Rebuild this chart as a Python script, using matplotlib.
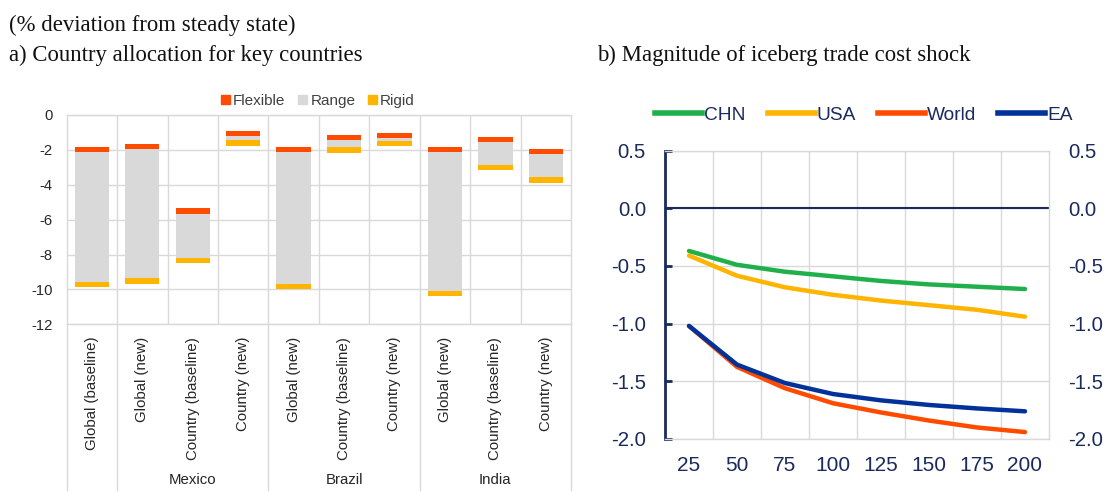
import matplotlib
matplotlib.use("Agg")
import matplotlib.pyplot as plt
import matplotlib.transforms as mtransforms
from matplotlib.patches import Patch
from matplotlib.lines import Line2D
import numpy as np

# ---------------- data ----------------
# Panel a
categories = ["Global (baseline)", "Global (new)", "Country (baseline)", "Country (new)",
              "Global (new)", "Country (baseline)", "Country (new)",
              "Global (new)", "Country (baseline)", "Country (new)"]
groups = ["Mexico", "Brazil", "India"]
group_spans = [(1, 3), (4, 6), (7, 9)]          # category index ranges of each group
flexible = [-1.82, -1.66, -5.35, -0.92, -1.82, -1.15, -1.01, -1.85, -1.24, -1.95]   # top of red band
rigid = [-9.88, -9.67, -8.49, -1.76, -10.0, -2.16, -1.78, -10.4, -3.15, -3.88]      # bottom of yellow band
band = 0.3

# Panel b
shock = [25, 50, 75, 100, 125, 150, 175, 200]
chn = [-0.37, -0.49, -0.55, -0.59, -0.63, -0.66, -0.68, -0.70]
usa = [-0.41, -0.585, -0.685, -0.75, -0.80, -0.84, -0.88, -0.94]
world = [-1.02, -1.375, -1.56, -1.69, -1.77, -1.84, -1.90, -1.94]
ea = [-1.02, -1.355, -1.515, -1.61, -1.665, -1.705, -1.735, -1.76]

# ---------------- style ----------------
C_FLEX = "#FF4B00"
C_RANGE = "#D9D9D9"
C_RIGID = "#FFB400"
C_CHN = "#20B04B"
C_USA = "#FFB400"
C_WORLD = "#FF4B00"
C_EA = "#003299"
NAVY = "#1B2A5C"
GRID = "#D9D9D9"
SANS = ["Liberation Sans", "DejaVu Sans"]
SERIF = ["Liberation Serif", "DejaVu Serif"]

fig = plt.figure(figsize=(11.05, 4.92), dpi=100)
W, H = 1105, 492

def fx(px):
    return px / W

def fy(py):
    return (H - py) / H

# titles
TS = 16.4
fig.text(fx(9), fy(31.5), "(% deviation from steady state)", family=SERIF, fontsize=TS,
         va="baseline", ha="left", color="#111111")
fig.text(fx(9), fy(60.5), "a) Country allocation for key countries", family=SERIF, fontsize=TS,
         va="baseline", ha="left", color="#111111")
fig.text(fx(597), fy(61), "b) Magnitude of iceberg trade cost shock", family=SERIF, fontsize=TS,
         va="baseline", ha="left", color="#111111")

# ---------------- panel a ----------------
axl = fig.add_axes([fx(66.7), fy(324.3), fx(571) - fx(66.7), fy(115) - fy(324.3)])
x = np.arange(len(categories))
flex_arr = np.array(flexible)
rig_arr = np.array(rigid)
bw = 0.68
axl.bar(x, (flex_arr - band) - (rig_arr + band), bottom=rig_arr + band, width=bw, color=C_RANGE,
        zorder=2, label="Range")
axl.bar(x, band, bottom=flex_arr - band, width=bw, color=C_FLEX, zorder=3, label="Flexible")
axl.bar(x, band, bottom=rig_arr, width=bw, color=C_RIGID, zorder=3, label="Rigid")

axl.set_xlim(-0.5, len(categories) - 0.5)
axl.set_ylim(-12, 0)
axl.set_yticks(np.arange(-12, 1, 2))
axl.set_yticklabels([f"{v:d}" for v in np.arange(-12, 1, 2)])
axl.grid(axis="y", color=GRID, lw=1, zorder=0)
for b in np.arange(0.5, len(categories) - 0.5, 1):
    axl.axvline(b, color=GRID, lw=1, zorder=0)
for s in axl.spines.values():
    s.set_color(GRID)
    s.set_linewidth(1)
axl.set_xticks(x)
axl.set_xticklabels(categories, rotation=90, va="top", ha="center", family=SANS, fontsize=10.8,
                    color="#262626")
axl.tick_params(axis="x", length=0, pad=9)
axl.tick_params(axis="y", length=0, pad=10, labelsize=10.6, labelcolor="#262626")
for lab in axl.get_yticklabels():
    lab.set_family(SANS)

# group separators extending below the axis
trans = mtransforms.blended_transform_factory(axl.transData, axl.transAxes)
bottom_frac = -(490 - 324.3) / (324.3 - 115)
for b in [-0.5, 0.5, 3.5, 6.5, 9.5]:
    axl.add_line(Line2D([b, b], [0, bottom_frac], transform=trans, color=GRID, lw=1, clip_on=False))
transg = mtransforms.blended_transform_factory(axl.transData, fig.transFigure)
for g, (a, b) in zip(groups, group_spans):
    axl.text((a + b) / 2, fy(480), g, transform=transg, ha="center", va="center",
             family=SANS, fontsize=10.8, color="#262626")

leg_handles = [Patch(color=C_FLEX), Patch(color=C_RANGE), Patch(color=C_RIGID)]
fig.legend(leg_handles, ["Flexible", "Range", "Rigid"], loc="center",
           bbox_to_anchor=(fx(318), fy(101)), ncol=3, frameon=False,
           prop={"family": SANS, "size": 11}, handlelength=0.58, handleheight=0.58,
           handletextpad=0.2, columnspacing=0.85, labelcolor="#404040",
           borderpad=0, borderaxespad=0)

# ---------------- panel b ----------------
axr = fig.add_axes([fx(665), fy(439), fx(1049) - fx(665), fy(150.6) - fy(439)])
pos = np.arange(len(shock))
lw = 3.2
axr.plot(pos, chn, color=C_CHN, lw=lw, solid_capstyle="round", zorder=3)
axr.plot(pos, usa, color=C_USA, lw=lw, solid_capstyle="round", zorder=3)
axr.plot(pos, world, color=C_WORLD, lw=lw, solid_capstyle="round", zorder=3)
axr.plot(pos, ea, color=C_EA, lw=lw, solid_capstyle="round", zorder=4)
axr.set_xlim(-0.5, len(shock) - 0.5)
axr.set_ylim(-2.0, 0.5)
yt = np.arange(-2.0, 0.51, 0.5)
axr.set_yticks(yt)
axr.set_yticklabels([f"{v:.1f}" for v in yt])
axr.set_xticks(pos)
axr.set_xticklabels([str(s) for s in shock])
axr.grid(axis="y", color=GRID, lw=1, zorder=0)
for b in np.arange(0.5, len(shock) - 0.5, 1):
    axr.axvline(b, color=GRID, lw=1, zorder=0)
axr.axhline(0, color=NAVY, lw=1.5, zorder=2)
for k, s in axr.spines.items():
    s.set_color(GRID)
    s.set_linewidth(1)
axr.spines["left"].set_color(NAVY)
axr.spines["left"].set_linewidth(2)
axr.tick_params(axis="y", direction="in", length=5, width=2, color=NAVY, pad=13.7,
                labelsize=14.7, labelcolor=NAVY, labelright=True, right=False)
axr.tick_params(axis="x", length=0, pad=12.5, labelsize=15, labelcolor=NAVY)
for lab in axr.get_yticklabels() + axr.get_xticklabels():
    lab.set_family(SANS)

rh = [Line2D([], [], color=c, lw=4) for c in [C_CHN, C_USA, C_WORLD, C_EA]]
fig.legend(rh, ["CHN", "USA", "World", "EA"], loc="center", bbox_to_anchor=(fx(864), fy(115)),
           ncol=4, frameon=False, prop={"family": SANS, "size": 13.8}, handlelength=2.45,
           handletextpad=0.1, columnspacing=1.15, labelcolor=NAVY)

fig.savefig("out.png", dpi=100)
